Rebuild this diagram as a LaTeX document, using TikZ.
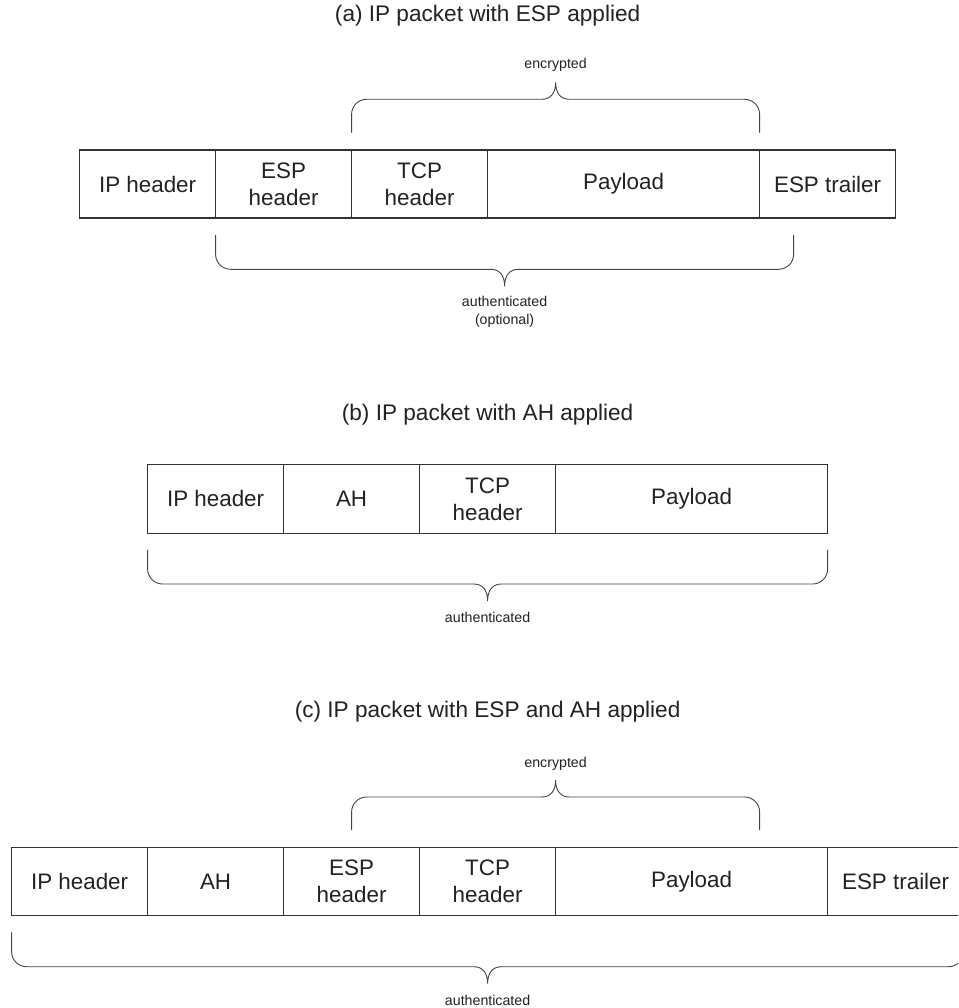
\documentclass[tikz,border=0pt]{standalone}
\usepackage{fontspec}
\setmainfont{Liberation Sans}
\definecolor{ink}{HTML}{222222}
\definecolor{boxline}{HTML}{333333}
\definecolor{braceline}{HTML}{444444}
\tikzset{
  cell/.style={draw=boxline, line width=1.2pt, rectangle, inner sep=0pt, outer sep=0pt,
    minimum height=68pt, align=center, text=ink, font=\fontsize{22.4}{27}\selectfont},
  title/.style={text=ink, inner sep=0pt, font=\fontsize{22.6}{27}\selectfont},
  small/.style={text=ink, inner sep=0pt, align=center, font=\fontsize{14.2}{20}\selectfont},
  bracel/.style={draw=braceline, line width=0.9pt},
}
\newcommand{\pbrace}[6]{%
  \draw[bracel] (#1,#4) -- (#1,{#5-15*#6})
    .. controls (#1,{#5-6.7*#6}) and ({#1+6.7},#5) .. ({#1+15},#5)
    -- ({#3-14},#5)
    .. controls ({#3-5},#5) and (#3,{#5+6*#6}) .. (#3,{#5+17*#6})
    .. controls (#3,{#5+6*#6}) and ({#3+5},#5) .. ({#3+14},#5)
    -- ({#2-15},#5)
    .. controls ({#2-6.7},#5) and (#2,{#5-6.7*#6}) .. (#2,{#5-15*#6})
    -- (#2,#4);}
\begin{document}
\begin{tikzpicture}[x=1pt,y=-1pt]
\useasboundingbox (0,0) rectangle (958,1008);
\fill[white] (0,0) rectangle (958,1008);
\clip (0,0) rectangle (958,1008);

% (a)
\node[title] (ta) at (487.6,16) {(a) IP packet with ESP applied};
\node[cell, minimum width=136pt] (a1) at (147.6,184) {IP header};
\node[cell, minimum width=136pt] (a2) at (283.6,184) {ESP\\header};
\node[cell, minimum width=136pt] (a3) at (419.6,184) {TCP\\header};
\node[cell, minimum width=272pt] (a4) at (623.6,184) {Payload};
\node[cell, minimum width=136pt] (a5) at (827.6,184) {ESP trailer};
\pbrace{351.6}{759.6}{555.6}{132.7}{99.3}{-1}
\node[small] (ea) at (555.6,65) {encrypted};
\pbrace{215.6}{793.6}{504.6}{235}{269.3}{1}
\node[small] (aa) at (504.6,301) {authenticated};
\node[small] (oa) at (504.6,321) {(optional)};

% (b)
\node[title] (tb) at (487.6,415) {(b) IP packet with AH applied};
\node[cell, minimum width=136pt, minimum height=69pt] (b1) at (215.6,498.8) {IP header};
\node[cell, minimum width=136pt, minimum height=69pt] (b2) at (351.6,498.8) {AH};
\node[cell, minimum width=136pt, minimum height=69pt] (b3) at (487.6,498.8) {TCP\\header};
\node[cell, minimum width=272pt, minimum height=69pt] (b4) at (691.6,498.8) {Payload};
\pbrace{147.6}{827.6}{487.6}{550}{584}{1}
\node[small] (ab) at (487.6,617) {authenticated};

% (c)
\node[title] (tc) at (487.6,712) {(c) IP packet with ESP and AH applied};
\node[cell, minimum width=136pt] (c1) at (79.6,881.7) {IP header};
\node[cell, minimum width=136pt] (c2) at (215.6,881.7) {AH};
\node[cell, minimum width=136pt] (c3) at (351.6,881.7) {ESP\\header};
\node[cell, minimum width=136pt] (c4) at (487.6,881.7) {TCP\\header};
\node[cell, minimum width=272pt] (c5) at (691.6,881.7) {Payload};
\node[cell, minimum width=136pt] (c6) at (895.6,881.7) {ESP trailer};
\pbrace{351.6}{759.6}{555.6}{830}{797}{-1}
\node[small] (ec) at (555.6,764) {encrypted};
\pbrace{11.6}{963.6}{487.6}{932.3}{966.7}{1}
\node[small] (ac) at (487.6,1000) {authenticated};
\end{tikzpicture}
\end{document}
